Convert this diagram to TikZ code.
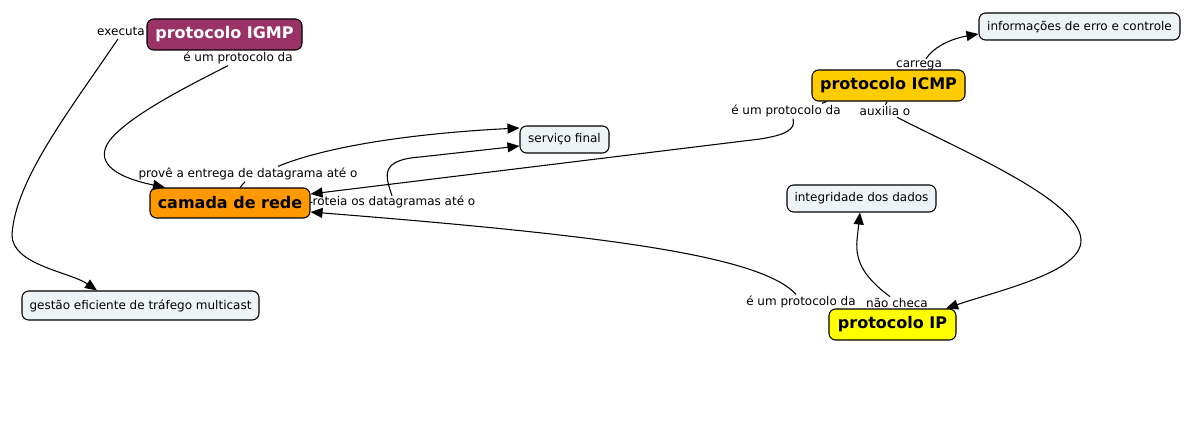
\documentclass[tikz,border=0pt]{standalone}
\usepackage{fontspec}
\setmainfont{DejaVu Sans}
\usetikzlibrary{arrows.meta,calc}
\definecolor{igmp}{HTML}{993366}
\definecolor{rede}{HTML}{FF9900}
\definecolor{icmp}{HTML}{FFCC00}
\definecolor{ipc}{HTML}{FFFF00}
\definecolor{light}{HTML}{EEF3F5}
\tikzset{
  concept/.style={draw=black, line width=0.8pt, rounded corners=5pt, inner sep=0pt, align=center},
  big/.style={concept, font=\fontsize{12pt}{14pt}\selectfont\bfseries},
  small/.style={concept, fill=light, font=\fontsize{9pt}{11pt}\selectfont},
  lbl/.style={inner sep=1pt, font=\fontsize{9pt}{11pt}\selectfont},
  conn/.style={line width=0.8pt, draw=black},
  arr/.style={conn, -{Triangle[length=9pt,width=7.5pt]}}
}
\begin{document}
\begin{tikzpicture}[x=0.75pt,y=-0.75pt]
\useasboundingbox[fill=white] (0,0) rectangle (1204,442);
% concepts
\node[big, fill=igmp, text=white, minimum width=155*0.75pt, minimum height=31*0.75pt] (igmp) at (224.5,34.5) {protocolo IGMP};
\node[big, fill=rede, minimum width=160*0.75pt, minimum height=30*0.75pt] (rede) at (230,203) {camada de rede};
\node[big, fill=icmp, minimum width=153*0.75pt, minimum height=31*0.75pt] (icmp) at (888.5,85.5) {protocolo ICMP};
\node[big, fill=ipc, minimum width=127*0.75pt, minimum height=31*0.75pt] (ip) at (892.5,324.5) {protocolo IP};
\node[small, minimum width=89*0.75pt, minimum height=27*0.75pt] (serv) at (564.5,139.5) {serviço final};
\node[small, minimum width=201*0.75pt, minimum height=27*0.75pt] (info) at (1079.5,26.5) {informações de erro e controle};
\node[small, minimum width=149*0.75pt, minimum height=27*0.75pt] (integ) at (861.5,198.5) {integridade dos dados};
\node[small, minimum width=237*0.75pt, minimum height=29*0.75pt] (gest) at (140.5,305.5) {gestão eficiente de tráfego multicast};
% linking phrases
\node[lbl] (lexec) at (121,31) {executa};
\node[lbl] (ligmp) at (238,58) {é um protocolo da};
\node[lbl] (lprov) at (248,174) {provê a entrega de datagrama até o};
\node[lbl, inner sep=0pt] (lrot) at (394,202) {roteia os datagramas até o};
\node[lbl] (licmp) at (786,111) {é um protocolo da};
\node[lbl] (lcar) at (919,65) {carrega};
\node[lbl] (laux) at (885,111) {auxilia o};
\node[lbl] (lip) at (801,302) {é um protocolo da};
\node[lbl] (lnao) at (897,303) {não checa};
% connectors
\draw[arr] ($(lexec.south)+(-3,2)$) .. controls (70,110) and (15,180) .. (12,235) .. controls (12,265) and (70,272) .. ($(gest.north)+(-43.5,0)$);
\draw[arr] ($(ligmp.south)+(-10,0)$) .. controls (190,85) and (130,115) .. (110,140) .. controls (95,160) and (110,176) .. ($(rede.north)+(-65,0)$);
\draw[conn] ($(rede.north)+(10,0)$) -- ($(lprov.south)+(-3,0)$);
\draw[arr] ($(lprov.north)+(30,0)$) .. controls (330,145) and (420,133) .. ($(serv.west)+(0,-11.5)$);
\draw[conn] (rede.east) -- (lrot.west);
\draw[arr] ($(lrot.north)+(-2,0)$) .. controls (385,175) and (380,160) .. (420,157) -- ($(serv.west)+(0,6.5)$);
\draw[conn] ($(icmp.south west)+(15,0)$) -- ($(licmp.north)+(36,0)$);
\draw[arr] ($(licmp.south)+(7,0)$) .. controls (796,130) and (785,135) .. (760,139) -- ($(rede.east)+(0,-9)$);
\draw[arr] ($(lcar.north)+(7,0)$) .. controls (935,45) and (955,38) .. ($(info.west)+(0,7.5)$);
\draw[conn] ($(icmp.south)+(-1.5,0)$) -- ($(laux.north)+(0.5,0)$);
\draw[arr] ($(laux.south)+(12,0)$) .. controls (960,150) and (1080,200) .. (1081,240) .. controls (1082,272) and (1000,290) .. ($(ip.north)+(53.5,0)$);
\draw[arr] ($(lip.north)+(-5,0)$) .. controls (760,255) and (600,235) .. ($(rede.east)+(0,9)$);
\draw[arr] ($(lnao.north)+(-7,0)$) .. controls (865,278) and (855,262) .. (857,240) -- ($(integ.south)+(-1.5,0)$);
\end{tikzpicture}
\end{document}
